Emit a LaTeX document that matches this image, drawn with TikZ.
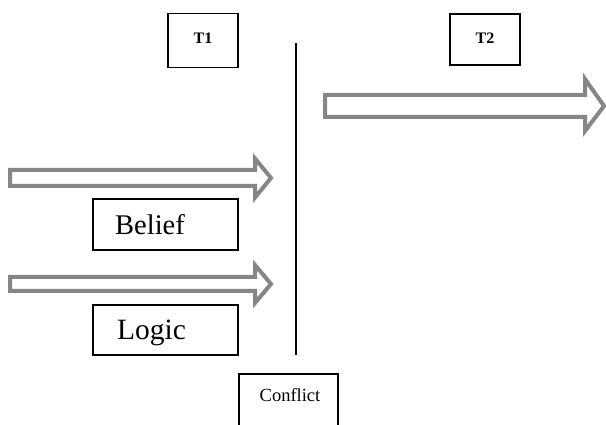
\documentclass[tikz,border=0pt]{standalone}
\usepackage{fontspec}
\setmainfont{Liberation Serif}
\begin{document}
\begin{tikzpicture}[x=1pt,y=-1pt,
  box/.style={draw=black,line width=1.3pt,rectangle,inner sep=0pt},
  blockarrow/.style={draw=gray!95,line width=4pt,fill=white,line join=miter},
  lbl/.style={inner sep=0pt}]
\useasboundingbox (0,0) rectangle (606,425);

% period boxes
\node[box,minimum width=70pt,minimum height=54pt] (t1) at (203,40.5) {};
\node[lbl,anchor=base,font=\fontsize{16}{16}\selectfont\bfseries] (t1text) at (203,44) {T1};
\node[box,minimum width=70pt,minimum height=51pt] (t2) at (485,39.5) {};
\node[lbl,anchor=base,font=\fontsize{16}{16}\selectfont\bfseries] (t2text) at (485,44) {T2};

% dividing line
\coordinate (divtop) at (296,43);
\coordinate (divbot) at (296,355);
\draw[line width=1.5pt] (divtop) -- (divbot);

% block arrows
\draw[blockarrow] (10,170) -- (255,170) -- (255,158.5) -- (271,178) -- (255,197.5) -- (255,186) -- (10,186) -- cycle;
\draw[blockarrow] (10,277) -- (255,277) -- (255,265) -- (271,284) -- (255,303) -- (255,291) -- (10,291) -- cycle;
\draw[blockarrow] (325,95) -- (585,95) -- (585,79) -- (604,106) -- (585,131) -- (585,117) -- (325,117) -- cycle;

% factor boxes
\node[box,minimum width=145pt,minimum height=51pt] (belief) at (165.5,224.5) {};
\node[lbl,font=\fontsize{28.5}{28.5}\selectfont,anchor=base west] (belieftext) at (115,235) {Belief};
\node[box,minimum width=145pt,minimum height=50pt] (logic) at (165.5,330) {};
\node[lbl,font=\fontsize{29.5}{29.5}\selectfont,anchor=base west] (logictext) at (117,340) {Logic};

% conflict box, running off the lower edge
\node[lbl,anchor=base,font=\fontsize{18.5}{18.5}\selectfont] (conflict) at (290,401) {Conflict};
\draw[line width=1.3pt] (239,426) -- (239,374) -- (338,374) -- (338,426);
\end{tikzpicture}
\end{document}
